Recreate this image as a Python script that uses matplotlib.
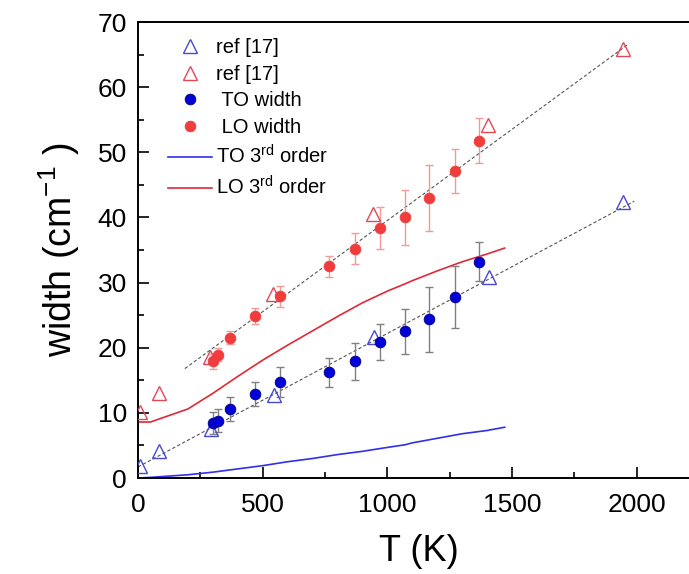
import numpy as np
import matplotlib.pyplot as plt
from matplotlib.ticker import MultipleLocator

plt.rcParams['font.family'] = ['Liberation Sans', 'DejaVu Sans']
plt.rcParams['mathtext.default'] = 'regular'

# Style constants
BLUE = "#0000D8"
RED = "#F03C3C"
TRI_BLUE = "#4848D0"
TRI_RED = "#E04858"
LINE_BLUE = "#3030E8"
LINE_RED = "#E02838"
ERR_BLUE = "#808080"
ERR_RED = "#F09A9A"

# ref [17] data (open triangles)
ref_to_T = [8, 85, 293, 545, 946, 1406, 1946]
ref_to_w = [1.9, 4.1, 7.5, 12.7, 21.7, 30.9, 42.3]
ref_lo_T = [8, 85, 289, 543, 942, 1405, 1946]
ref_lo_w = [10.1, 13.0, 18.6, 28.3, 40.6, 54.2, 65.8]

# measured widths
meas_T = [300, 322, 369, 470, 570, 767, 871, 969, 1069, 1166, 1270, 1368]
to_w = [8.5, 8.8, 10.6, 12.9, 14.7, 16.2, 17.9, 20.9, 22.5, 24.4, 27.8, 33.2]
to_err = [1.7, 1.8, 1.9, 1.9, 2.3, 2.3, 2.8, 2.8, 3.4, 5.0, 4.7, 3.0]
lo_w = [17.9, 18.9, 21.5, 24.9, 27.9, 32.5, 35.2, 38.4, 40.0, 43.0, 47.1, 51.8]
lo_err = [1.2, 1.0, 1.0, 1.2, 1.6, 1.6, 2.4, 3.2, 4.2, 5.1, 3.4, 3.5]

# 3rd order calculations
calc_T = [0, 50, 200, 300, 400, 500, 600, 700, 800, 900, 1000, 1070, 1100, 1200, 1300, 1400, 1470]
to_calc = [0.0, 0.1, 0.5, 0.9, 1.4, 1.9, 2.5, 3.0, 3.6, 4.1, 4.7, 5.1, 5.4, 6.1, 6.8, 7.3, 7.8]
lo_calc = [8.6, 8.6, 10.6, 13.0, 15.6, 18.1, 20.4, 22.6, 24.8, 26.9, 28.7, 29.8, 30.3, 31.8, 33.2, 34.4, 35.3]

# linear guide lines
fit_to_T = [0, 1990]
fit_to_w = [1.7, 42.5]
fit_lo_T = [188, 1966]
fit_lo_w = [16.8, 66.6]

fig = plt.figure(figsize=(6.89, 5.74), dpi=100)
ax = fig.add_axes([0.2003, 0.1672, 0.8145, 0.7944])

ax.plot(fit_to_T, fit_to_w, color='#555555', linestyle=(0, (3, 2)), linewidth=0.8, zorder=1)
ax.plot(fit_lo_T, fit_lo_w, color='#555555', linestyle=(0, (3, 2)), linewidth=0.8, zorder=1)

h_to_line, = ax.plot(calc_T, to_calc, color=LINE_BLUE, linewidth=1.2, label='TO 3$^{rd}$ order', zorder=2)
h_lo_line, = ax.plot(calc_T, lo_calc, color=LINE_RED, linewidth=1.2, label='LO 3$^{rd}$ order', zorder=2)

ax.errorbar(meas_T, to_w, yerr=to_err, fmt='none', ecolor=ERR_BLUE, elinewidth=1.0, capsize=3, capthick=1.0, zorder=3)
ax.errorbar(meas_T, lo_w, yerr=lo_err, fmt='none', ecolor=ERR_RED, elinewidth=1.0, capsize=3, capthick=1.0, zorder=3)

h_ref_to, = ax.plot(ref_to_T, ref_to_w, linestyle='none', marker='^', markersize=9.5, markerfacecolor='none',
                    markeredgecolor=TRI_BLUE, markeredgewidth=1.0, label='ref [17]', zorder=4)
h_ref_lo, = ax.plot(ref_lo_T, ref_lo_w, linestyle='none', marker='^', markersize=9.5, markerfacecolor='none',
                    markeredgecolor=TRI_RED, markeredgewidth=1.0, label='ref [17]', zorder=4)
h_to, = ax.plot(meas_T, to_w, linestyle='none', marker='o', markersize=7.7, color=BLUE,
                markeredgecolor='#000080', markeredgewidth=0.6, label=' TO width', zorder=5)
h_lo, = ax.plot(meas_T, lo_w, linestyle='none', marker='o', markersize=7.7, color=RED,
                markeredgecolor=RED, markeredgewidth=0.6, label=' LO width', zorder=5)

ax.set_xlim(0, 2250)
ax.set_ylim(0, 70)
ax.xaxis.set_major_locator(MultipleLocator(500))
ax.xaxis.set_minor_locator(MultipleLocator(250))
ax.yaxis.set_major_locator(MultipleLocator(10))
ax.yaxis.set_minor_locator(MultipleLocator(5))
ax.tick_params(which='both', direction='in', labelsize=19, width=1.2)
ax.tick_params(which='major', length=8)
ax.tick_params(which='minor', length=4)
ax.tick_params(axis='x', pad=11)
ax.tick_params(axis='y', pad=8)
for sp in ax.spines.values():
    sp.set_linewidth(1.4)

ax.set_xlabel('T (K)', fontsize=26, labelpad=12)
ax.set_ylabel('width (cm$^{-1}$ )', fontsize=27, labelpad=11)

leg = ax.legend(handles=[h_ref_to, h_ref_lo, h_to, h_lo, h_to_line, h_lo_line],
                loc='upper left', bbox_to_anchor=(0.0535, 0.965), frameon=False, fontsize=14.5,
                borderpad=0, borderaxespad=0,
                handlelength=2.2, handletextpad=0.2, labelspacing=0.38)

fig.savefig('out.png', dpi=100)
